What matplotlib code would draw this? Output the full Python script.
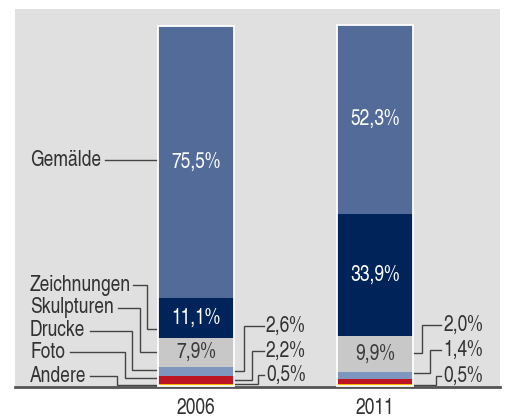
import matplotlib
matplotlib.use("Agg")
import matplotlib.pyplot as plt
from matplotlib import font_manager
import numpy as np

# ---- data ----
years = ["2006", "2011"]
categories = ["Andere", "Foto", "Drucke", "Skulpturen", "Zeichnungen", "Gemälde"]
values_2006 = [0.5, 2.2, 2.6, 7.9, 11.1, 75.5]
values_2011 = [0.5, 1.4, 2.0, 9.9, 33.9, 52.3]
labels_2006 = ["0,5%", "2,2%", "2,6%", "7,9%", "11,1%", "75,5%"]
labels_2011 = ["0,5%", "1,4%", "2,0%", "9,9%", "33,9%", "52,3%"]

colors = ["#F2B705", "#BE1522", "#7F97BF", "#C8C8C8", "#00245A", "#536B98"]
inside_text_color = [None, None, None, "#3a3a3a", "white", "white"]

_avail = {f.name for f in font_manager.fontManager.ttflist}
_prefs = ["TeX Gyre Heros Cn", "Roboto Condensed", "Archivo Narrow", "Liberation Sans Narrow"]
_main = next((p for p in _prefs if p in _avail), "DejaVu Sans")
plt.rcParams["font.family"] = [_main, "DejaVu Sans"]
TXT = "#333333"
LINE = "#444444"
FS = 15.3

W, H = 505, 418
fig = plt.figure(figsize=(W / 100, H / 100), dpi=100)
ax_l, ax_r, ax_t, ax_b = 15, 500, 9, 388
ax = fig.add_axes([ax_l / W, 1 - ax_b / H, (ax_r - ax_l) / W, (ax_b - ax_t) / H])
ax.set_facecolor("#E0E0E0")

# pixel <-> data mapping (layout)
XC0, XPU = 196.0, 179.0
Y0, YPU = 386.0, 3.61
def px(x):
    return (x - XC0) / XPU
def py(y):
    return (Y0 - y) / YPU

ax.set_xlim(px(ax_l), px(ax_r))
ax.set_ylim(py(ax_b), py(ax_t))

xs = np.arange(len(years))
bw = 76 / XPU
all_vals = [values_2006, values_2011]
all_labels = [labels_2006, labels_2011]
for i, vals in enumerate(all_vals):
    bottom = 0.0
    for j, v in enumerate(vals):
        ax.bar(xs[i], v, bw, bottom=bottom, color=colors[j], linewidth=0, zorder=2)
        if inside_text_color[j] is not None:
            ax.text(xs[i], bottom + v / 2, all_labels[i][j], ha="center", va="center",
                    color=inside_text_color[j], fontsize=FS, zorder=4)
        bottom += v
    ax.bar(xs[i], bottom, bw, bottom=0, fill=False, edgecolor="white", linewidth=1.3, zorder=3)

# spines / ticks
for s in ["top", "left", "right"]:
    ax.spines[s].set_visible(False)
ax.spines["bottom"].set_color("#555555")
ax.spines["bottom"].set_linewidth(2.0)
ax.spines["bottom"].set_position(("data", py(387.3)))
ax.set_yticks([])
ax.set_xticks(xs)
ax.set_xticklabels(years, fontsize=FS, color=TXT)
ax.tick_params(axis="x", length=0, pad=7.5)

def conn(points):
    xs_ = [px(p[0]) for p in points]
    ys_ = [py(p[1]) for p in points]
    ax.plot(xs_, ys_, color=LINE, linewidth=1.0, zorder=1, clip_on=False,
            solid_joinstyle="miter")

# left labels (category names)
ax.text(px(30), py(160), categories[5], ha="left", va="center", fontsize=FS, color=TXT)
conn([(105, 160), (157, 160)])
left_rows = [  # (category index, text y, line start, vertical x, attach y)
    (4, 285, 133, 147, 329),
    (3, 308, 118, 140, 352),
    (2, 331, 90, 132, 370),
    (1, 352, 70, 125, 378),
    (0, 376, 90, 117, 384.5),
]
for ci, ty, lx0, vx, ay in left_rows:
    ax.text(px(30), py(ty), categories[ci], ha="left", va="center", fontsize=FS, color=TXT)
    conn([(lx0, ty), (vx, ty), (vx, ay), (158, ay)])

# right labels for small values
right_rows_2006 = [  # (value idx, text y, vertical x, attach y)
    (2, 326, 244, 371),
    (1, 351, 252, 380),
    (0, 375, 258, 384),
]
for vi, ty, vx, ay in right_rows_2006:
    conn([(235, ay), (vx, ay), (vx, ty), (264, ty)])
    ax.text(px(266), py(ty), labels_2006[vi], ha="left", va="center", fontsize=FS, color=TXT)

right_rows_2011 = [
    (2, 325, 422, 353),
    (1, 350, 430, 373),
    (0, 376, 436, 385),
]
for vi, ty, vx, ay in right_rows_2011:
    conn([(413, ay), (vx, ay), (vx, ty), (441, ty)])
    ax.text(px(443), py(ty), labels_2011[vi], ha="left", va="center", fontsize=FS, color=TXT)

fig.savefig("out.png", dpi=100)
